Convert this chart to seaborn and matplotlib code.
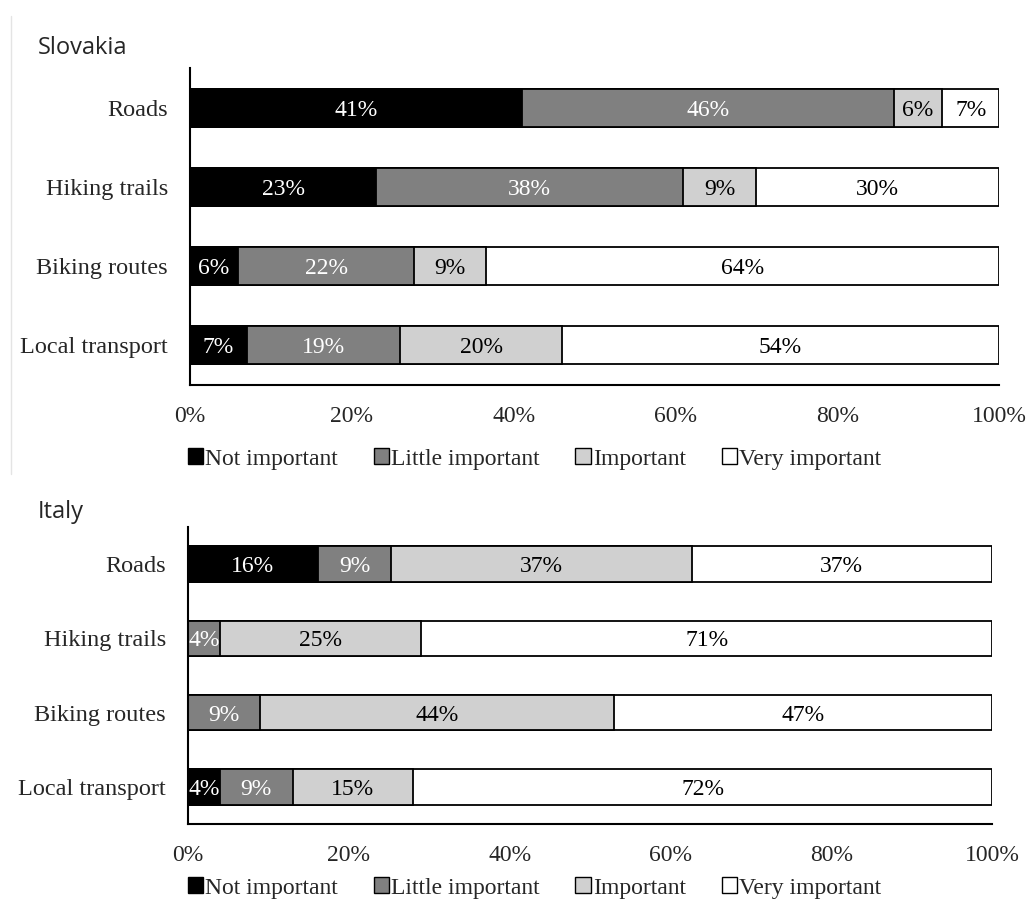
import numpy as np
import pandas as pd
import matplotlib
matplotlib.use("Agg")
import matplotlib.pyplot as plt
from matplotlib.patches import Patch
from matplotlib.lines import Line2D
import seaborn as sns

# Survey shares (%) per infrastructure type
categories = ["Roads", "Hiking trails", "Biking routes", "Local transport"]
levels = ["Not important", "Little important", "Important", "Very important"]

slovakia_not = [41, 23, 6, 7]
slovakia_little = [46, 38, 22, 19]
slovakia_important = [6, 9, 9, 20]
slovakia_very = [7, 30, 64, 54]

italy_not = [16, 0, 0, 4]
italy_little = [9, 4, 9, 9]
italy_important = [37, 25, 44, 15]
italy_very = [37, 71, 47, 72]

tick_values = [0, 0.2, 0.4, 0.6, 0.8, 1.0]
tick_labels = ["0%", "20%", "40%", "60%", "80%", "100%"]

colors = ["#000000", "#808080", "#d0d0d0", "#ffffff"]
text_colors = ["white", "white", "black", "black"]

sns.set_theme(style="white")
serif = ["Liberation Serif", "DejaVu Serif"]
plt.rcParams["font.family"] = serif

fig = plt.figure(figsize=(10.28, 9.08), dpi=100)


def stacked_panel(ax, series):
    vals = np.array(series, dtype=float).T  # rows: categories, cols: levels
    shares = vals / vals.sum(axis=1, keepdims=True)
    cum = np.cumsum(shares, axis=1)
    # draw cumulative layers from the widest to the narrowest
    for k in range(len(levels) - 1, -1, -1):
        df = pd.DataFrame({"cat": categories, "x": cum[:, k]})
        sns.barplot(data=df, x="x", y="cat", orient="h", color=colors[k],
                    saturation=1, width=0.48, edgecolor="black",
                    linewidth=1.3, ax=ax)
    for i in range(len(categories)):
        for k in range(len(levels)):
            if vals[i, k] <= 0:
                continue
            xc = cum[i, k] - shares[i, k] / 2
            ax.text(xc, i, f"{int(vals[i, k])}%", ha="center",
                    va="center_baseline", color=text_colors[k],
                    fontsize=17, family=serif)
    ax.set_xlim(0, 1)
    ax.set_ylim(len(categories) - 0.5, -0.5)
    ax.set_xticks(tick_values)
    ax.set_xticklabels(tick_labels)
    ax.set_xlabel("")
    ax.set_ylabel("")
    ax.tick_params(axis="x", length=0, labelsize=17, pad=15)
    ax.tick_params(axis="y", length=0, labelsize=17.5, pad=16)
    for side in ["top", "right"]:
        ax.spines[side].set_visible(False)
    for side in ["left", "bottom"]:
        ax.spines[side].set_color("black")
        ax.spines[side].set_linewidth(1.5)
    ax.grid(False)


ax1 = fig.add_axes([190 / 1028, 1 - 385 / 908, 809 / 1028, 317 / 908])
stacked_panel(ax1, [slovakia_not, slovakia_little, slovakia_important, slovakia_very])

ax2 = fig.add_axes([188 / 1028, 1 - 824 / 908, 804 / 1028, 297 / 908])
stacked_panel(ax2, [italy_not, italy_little, italy_important, italy_very])

handles = [Patch(facecolor=c, edgecolor="black", linewidth=1.0) for c in colors]
for ycen in [459, 888]:
    fig.legend(handles, levels, loc="center", ncol=4, frameon=False,
               bbox_to_anchor=(0.52, 1 - ycen / 908),
               prop={"family": serif, "size": 17},
               handlelength=0.65, handleheight=0.65, handletextpad=0.1,
               columnspacing=1.5)

fig.text(38 / 1028, 1 - 48 / 908, "Slovakia", ha="left", va="center",
         fontsize=17, family=["Open Sans", "DejaVu Sans"])
fig.text(38 / 1028, 1 - 512 / 908, "Italy", ha="left", va="center",
         fontsize=17, family=["Open Sans", "DejaVu Sans"])

# thin frame edge on the left of the upper panel
fig.add_artist(Line2D([11 / 1028, 11 / 1028], [1 - 16 / 908, 1 - 474 / 908],
                      color="#e4e4e4", linewidth=1))

fig.savefig("out.png", dpi=100)
